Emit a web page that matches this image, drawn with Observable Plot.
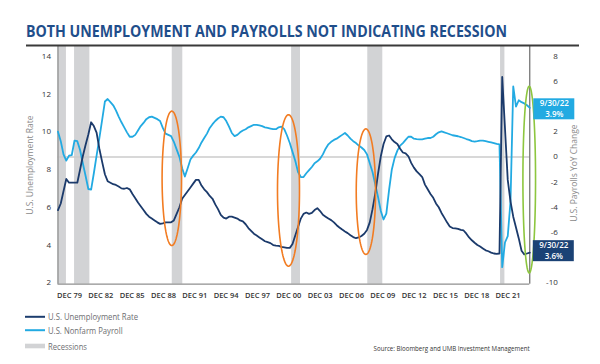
<!DOCTYPE html>
<html><head><meta charset="utf-8">
<script src="https://cdn.jsdelivr.net/npm/d3@7"></script>
<script src="https://cdn.jsdelivr.net/npm/@observablehq/plot@0.6"></script>
<style>
body{margin:0;background:#fff;}
#wrap{position:relative;width:600px;height:364px;overflow:hidden;font-family:"Open Sans",sans-serif;}
#chart{position:absolute;left:0;top:0;}
#overlay{position:absolute;left:0;top:0;pointer-events:none;}
</style></head><body>
<div id="wrap"><div id="chart"></div>
<svg id="overlay" width="600" height="364" font-family="Open Sans, sans-serif">
  <text x="26" y="37" font-size="15.5" font-weight="700" fill="#1f4e8b" textLength="481" lengthAdjust="spacingAndGlyphs">BOTH UNEMPLOYMENT AND PAYROLLS NOT INDICATING RECESSION</text>
  <line x1="26" x2="579" y1="45.5" y2="45.5" stroke="#3a3a3a" stroke-width="2"/>
  <line x1="25" x2="45" y1="316.8" y2="316.8" stroke="#1c3d6e" stroke-width="2"/>
  <text x="48" y="316.8" dominant-baseline="central" font-size="8.5" fill="#6d6e71" textLength="90" lengthAdjust="spacingAndGlyphs">U.S. Unemployment Rate</text>
  <line x1="25" x2="45" y1="330.2" y2="330.2" stroke="#22aae2" stroke-width="2"/>
  <text x="48" y="330.2" dominant-baseline="central" font-size="8.5" fill="#6d6e71" textLength="74.6" lengthAdjust="spacingAndGlyphs">U.S. Nonfarm Payroll</text>
  <rect x="25" y="343.7" width="20" height="4.6" fill="#d2d3d5"/>
  <text x="48" y="346" dominant-baseline="central" font-size="8.5" fill="#6d6e71" textLength="39" lengthAdjust="spacingAndGlyphs">Recessions</text>
  <text x="373.6" y="348.6" dominant-baseline="central" font-size="7" fill="#333" textLength="156" lengthAdjust="spacingAndGlyphs">Source: Bloomberg and UMB Investment Management</text>
</svg></div>
<script>
// Quarter-end observations, Dec 1979 .. Sep 2022
const startQuarter = "1979-12-31";
const endQuarter = "2022-09-30";
const unemployment = [
  5.85,
  6.2, 6.85, 7.5, 7.3,      // 1980
  7.3, 7.3, 7.3, 8.0,       // 1981
  8.7, 9.3, 9.85, 10.5,     // 1982
  10.3, 9.95, 9.1, 8.4,     // 1983
  7.75, 7.38, 7.3, 7.22,    // 1984
  7.18, 7.1, 7.0, 6.98,     // 1985
  7.02, 6.95, 6.7, 6.48,    // 1986
  6.25, 6.05, 5.85, 5.65,   // 1987
  5.5, 5.4, 5.3, 5.2,       // 1988
  5.12, 5.15, 5.2, 5.2,     // 1989
  5.2, 5.3, 5.65, 6.0,      // 1990
  6.45, 6.65, 6.85, 7.05,   // 1991
  7.25, 7.45, 7.45, 7.15,   // 1992
  6.95, 6.8, 6.6, 6.45,     // 1993
  6.15, 5.9, 5.6, 5.45,     // 1994
  5.4, 5.5, 5.5, 5.45,      // 1995
  5.4, 5.3, 5.25, 5.1,      // 1996
  4.9, 4.75, 4.6, 4.5,      // 1997
  4.4, 4.3, 4.2, 4.15,      // 1998
  4.1, 4.0, 3.97, 3.95,     // 1999
  3.9, 3.88, 3.85, 3.85,    // 2000
  4.05, 4.5, 4.95, 5.4,     // 2001
  5.65, 5.72, 5.65, 5.7,    // 2002
  5.85, 5.95, 5.8, 5.6,     // 2003
  5.5, 5.4, 5.32, 5.2,      // 2004
  5.05, 4.93, 4.82, 4.72,   // 2005
  4.63, 4.52, 4.42, 4.36,   // 2006
  4.4, 4.48, 4.6, 4.8,      // 2007
  5.2, 5.9, 6.75, 7.8,      // 2008
  8.7, 9.35, 9.75, 9.8,     // 2009
  9.6, 9.45, 9.35, 9.1,     // 2010
  8.9, 8.85, 8.7, 8.35,     // 2011
  8.1, 7.9, 7.75, 7.6,      // 2012
  7.2, 6.95, 6.7, 6.5,      // 2013
  6.2, 6.0, 5.7, 5.45,      // 2014
  5.2, 4.98, 4.9, 4.88,     // 2015
  4.85, 4.8, 4.77, 4.6,     // 2016
  4.4, 4.25, 4.12, 4.0,     // 2017
  3.92, 3.82, 3.72, 3.67,   // 2018
  3.6, 3.55, 3.53, 3.55,    // 2019
  12.9, 10.2, 7.45, 6.3,    // 2020
  5.5, 4.93, 4.35, 3.7,     // 2021
  3.5, 3.55, 3.6            // 2022
];
const payrolls = [
  2.0,
  1.25, 0.2, -0.3, 0.1,     // 1980
  0.15, 1.3, 1.25, 0.55,    // 1981
  -0.5, -1.5, -2.55, -2.6,  // 1982
  -1.3, 0.1, 1.5, 2.95,     // 1983
  4.4, 4.6, 4.35, 4.1,      // 1984
  3.7, 3.2, 2.75, 2.35,     // 1985
  1.95, 1.6, 1.6, 1.75,     // 1986
  2.1, 2.45, 2.7, 3.0,      // 1987
  3.15, 3.2, 3.1, 3.0,      // 1988
  2.85, 2.3, 1.85, 1.75,    // 1989
  1.65, 1.2, 0.6, 0.0,      // 1990
  -0.9, -1.56, -0.9, -0.2,  // 1991
  0.1, 0.35, 0.7, 1.15,     // 1992
  1.5, 1.85, 2.3, 2.6,      // 1993
  2.85, 3.05, 3.2, 3.15,    // 1994
  2.85, 2.4, 1.9, 1.65,     // 1995
  1.75, 1.95, 2.1, 2.2,     // 1996
  2.35, 2.45, 2.55, 2.55,   // 1997
  2.5, 2.44, 2.35, 2.3,     // 1998
  2.25, 2.2, 2.2, 2.35,     // 1999
  2.4, 2.2, 1.7, 1.1,       // 2000
  0.4, -0.3, -1.2, -1.6,    // 2001
  -1.6, -1.3, -1.05, -0.8,  // 2002
  -0.5, -0.35, -0.15, 0.2,  // 2003
  0.65, 1.0, 1.2, 1.35,     // 2004
  1.45, 1.6, 1.75, 1.9,     // 2005
  1.7, 1.45, 1.25, 1.1,     // 2006
  0.9, 0.75, 0.55, 0.2,     // 2007
  -0.5, -1.2, -2.2, -3.2,   // 2008
  -4.3, -4.97, -4.5, -2.6,  // 2009
  -1.0, -0.1, 0.5, 0.9,     // 2010
  1.1, 1.35, 1.6, 1.6,      // 2011
  1.45, 1.42, 1.4, 1.4,     // 2012
  1.45, 1.5, 1.5, 1.6,      // 2013
  1.8, 1.95, 2.02, 1.95,    // 2014
  1.88, 1.8, 1.72, 1.68,    // 2015
  1.64, 1.58, 1.5, 1.42,    // 2016
  1.35, 1.25, 1.22, 1.25,   // 2017
  1.3, 1.3, 1.25, 1.2,      // 2018
  1.15, 1.1, 1.04, 1.0,     // 2019
  -8.76, -6.8, -6.3, -3.5,  // 2020
  5.6, 4.0, 4.5, 4.35,      // 2021
  4.25, 4.1, 3.9            // 2022
];
const recessionStart = ["1979-12-31", "1981-07-01", "1990-05-08", "2001-03-01", "2008-01-25", "2020-02-05"];
const recessionEnd   = ["1980-10-05", "1982-11-20", "1991-04-22", "2001-12-20", "2009-06-05", "2020-06-28"];
const xTickLabels = ["DEC 79","DEC 82","DEC 85","DEC 88","DEC 91","DEC 94","DEC 97","DEC 00","DEC 03","DEC 06","DEC 09","DEC 12","DEC 15","DEC 18","DEC 21"];
const xTickFirst = "1981-01-15", xTickLast = "2020-10-12";
const leftTicks = [2, 4, 6, 8, 10, 12, 14];
// 4 and -8 sit under the end-value boxes in the original, so they are not shown
const rightTicks = [8, 6, 2, 0, -2, -4, -6, -10];
// highlight ellipses (date span, unemployment-axis span)
const ellipseStart = ["1989-06-06", "1999-11-20", "2007-01-08", "2022-02-14"];
const ellipseEnd   = ["1991-03-10", "2001-11-17", "2008-10-08", "2023-04-08"];
const ellipseLow   = [3.97, 2.88, 3.50, 2.52];
const ellipseHigh  = [11.09, 10.90, 10.15, 12.41];
const ellipseColor = ["#f27c22", "#f27c22", "#f27c22", "#8dc63f"];

const navy = "#1b3a6b", sky = "#22aae2";
const toLeft = r => 14 + (r - 8) / 1.5;       // payroll % -> unemployment axis
const toRight = v => 8 + (v - 14) * 1.5;
const yDomain = [1.925, 14.54];

// quarter-end dates: last day before each of Jan/Apr/Jul/Oct 1st
const dates = d3.utcMonth.range(new Date("1980-01-01"), new Date("2022-10-02"), 3)
  .map(d => d3.utcDay.offset(d, -1));
const unempData = dates.map((date, i) => ({date, v: unemployment[i], raw: unemployment[i]}));
const payData = dates.map((date, i) => ({date, v: toLeft(payrolls[i]), raw: payrolls[i]}));
const recessions = recessionStart.map((s, i) => ({start: new Date(s), end: new Date(recessionEnd[i])}));

const t0 = +new Date(xTickFirst), t1 = +new Date(xTickLast);
const xTicks = xTickLabels.map((l, i) => new Date(t0 + (t1 - t0) * i / (xTickLabels.length - 1)));
const xLabelMap = new Map(xTicks.map((d, i) => [+d, xTickLabels[i]]));

const ellipsePts = [];
ellipseStart.forEach((s, i) => {
  const a0 = +new Date(s), a1 = +new Date(ellipseEnd[i]);
  const cx = (a0 + a1) / 2, rx = (a1 - a0) / 2;
  const cy = (ellipseLow[i] + ellipseHigh[i]) / 2, ry = (ellipseHigh[i] - ellipseLow[i]) / 2;
  for (let k = 0; k <= 96; k++) {
    const a = k / 96 * 2 * Math.PI;
    ellipsePts.push({id: i, color: ellipseColor[i], date: new Date(cx + rx * Math.cos(a)), v: cy + ry * Math.sin(a)});
  }
});

const lastPay = payData[payData.length - 1];
const lastUn = unempData[unempData.length - 1];
const fmtD = d3.utcFormat("%-m/%-d/%y");
const boxDate = d => fmtD(d.date);
const boxVal = d => `${d.raw.toFixed(1)}%`;
const boxFont = {fill: "white", fontSize: 8, fontWeight: 600};

const chart = Plot.plot({
  width: 600, height: 364,
  marginLeft: 57.5, marginRight: 70.7, marginTop: 45.5, marginBottom: 80.3,
  x: {type: "utc", domain: [new Date(startQuarter), new Date(endQuarter)]},
  y: {domain: yDomain},
  style: {fontFamily: "Open Sans, sans-serif", background: "transparent", overflow: "visible"},
  marks: [
    Plot.rect(recessions, {x1: "start", x2: "end", fill: "#d2d3d5"}),
    Plot.ruleY([toLeft(0)], {stroke: "#cbcbcb", strokeWidth: 1.5}),
    Plot.ruleX([new Date(startQuarter)], {stroke: "#9b9b9b", strokeWidth: 1.5}),
    Plot.ruleX([new Date(endQuarter)], {stroke: "#4d4d4d", strokeWidth: 1}),
    Plot.ruleY([yDomain[0]], {stroke: "#8f8f8f", strokeWidth: 1.2}),
    Plot.line(payData, {x: "date", y: "v", stroke: sky, strokeWidth: 1.8}),
    Plot.line(unempData, {x: "date", y: "v", stroke: navy, strokeWidth: 1.8}),
    Plot.line(ellipsePts, {x: "date", y: "v", z: "id", stroke: "color", strokeWidth: 1.6, curve: "linear"}),
    Plot.rect([lastPay], {x1: "date", x2: "date", y1: "v", y2: "v", fill: sky, insetRight: -41, insetTop: -10.5, insetBottom: -10.5, dx: 4, dy: 1.5}),
    Plot.text([lastPay], {x: "date", y: "v", text: boxDate, dx: 24.5, dy: -4, ...boxFont}),
    Plot.text([lastPay], {x: "date", y: "v", text: boxVal, dx: 24.5, dy: 7, ...boxFont}),
    Plot.rect([lastUn], {x1: "date", x2: "date", y1: "v", y2: "v", fill: "#1b4275", insetRight: -41, insetTop: -10.5, insetBottom: -10.5, dx: 3.5, dy: -1.4}),
    Plot.text([lastUn], {x: "date", y: "v", text: boxDate, dx: 24, dy: -6.9, ...boxFont}),
    Plot.text([lastUn], {x: "date", y: "v", text: boxVal, dx: 24, dy: 4.1, ...boxFont}),
    Plot.axisY({ticks: leftTicks, tickSize: 0, tickPadding: 7, fontSize: 8, fill: "#333", label: null}),
    Plot.axisY({anchor: "right", ticks: rightTicks.map(toLeft), tickFormat: v => String(Math.round(toRight(v))), tickSize: 0, tickPadding: 28, textAnchor: "end", fontSize: 8, fill: "#333", label: null}),
    Plot.axisX({ticks: xTicks, tickFormat: d => xLabelMap.get(+d), tickSize: 0, tickPadding: 8, fontSize: 7.5, fontWeight: 600, fill: "#333", label: null}),
    Plot.text(["U.S. Unemployment Rate"], {frameAnchor: "left", textAnchor: "middle", dx: -27.5, rotate: -90, fontSize: 8.5, fill: "#8a8a8a"}),
    Plot.text(["U.S. Payrolls YoY Change"], {frameAnchor: "right", textAnchor: "middle", dx: 44.7, dy: 8, rotate: -90, fontSize: 8.5, fill: "#8a8a8a"})
  ]
});
document.getElementById("chart").appendChild(chart);
</script>
</body></html>
